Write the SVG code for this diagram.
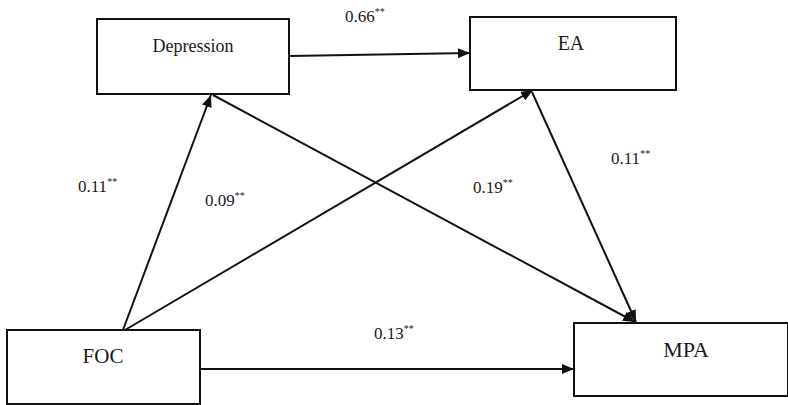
<svg xmlns="http://www.w3.org/2000/svg" width="788" height="405" viewBox="0 0 788 405">
<style>
.box{fill:#fff;stroke:#111;stroke-width:2}
.lbl{font-family:"Liberation Serif","Times New Roman",serif;fill:#1a1a1a;text-anchor:middle}
.coef{font-family:"Liberation Serif","Times New Roman",serif;fill:#1a1a1a;font-size:17px}
.sup{font-size:10px}
.edge{stroke:#111;stroke-width:2;fill:none;marker-end:url(#arr)}
</style>
<defs>
<marker id="arr" viewBox="0 0 12 10" refX="12" refY="5" markerWidth="12" markerHeight="10" markerUnits="userSpaceOnUse" orient="auto">
<path d="M0,0 L12,5 L0,10 z" fill="#111"/>
</marker>
</defs>
<rect width="788" height="405" fill="#fff"/>
<g id="edges">
<line class="edge" x1="289" y1="56" x2="470" y2="53"/>
<line class="edge" x1="123" y1="330" x2="211" y2="95"/>
<line class="edge" x1="125" y1="330" x2="533" y2="90"/>
<line class="edge" x1="213" y1="95" x2="635" y2="322"/>
<line class="edge" x1="532" y1="92" x2="636" y2="322"/>
<line class="edge" x1="200" y1="369" x2="574" y2="369"/>
</g>
<g id="depression">
<rect class="box" x="97" y="19" width="192" height="75"/>
<text class="lbl" x="193" y="52" font-size="18">Depression</text>
</g>
<g id="ea">
<rect class="box" x="470" y="17" width="206" height="73"/>
<text class="lbl" x="571" y="50" font-size="20">EA</text>
</g>
<g id="foc">
<rect class="box" x="7" y="330" width="193" height="74"/>
<text class="lbl" x="103" y="363" font-size="21">FOC</text>
</g>
<g id="mpa">
<rect class="box" x="574" y="323" width="214" height="73"/>
<text class="lbl" x="686" y="357" font-size="22">MPA</text>
</g>
<g id="labels">
<text class="coef" x="345" y="22">0.66<tspan class="sup" dy="-7">**</tspan></text>
<text class="coef" x="78" y="192">0.11<tspan class="sup" dy="-7">**</tspan></text>
<text class="coef" x="205" y="206">0.09<tspan class="sup" dy="-7">**</tspan></text>
<text class="coef" x="473" y="193">0.19<tspan class="sup" dy="-7">**</tspan></text>
<text class="coef" x="611" y="164">0.11<tspan class="sup" dy="-7">**</tspan></text>
<text class="coef" x="374" y="339">0.13<tspan class="sup" dy="-7">**</tspan></text>
</g>
</svg>
